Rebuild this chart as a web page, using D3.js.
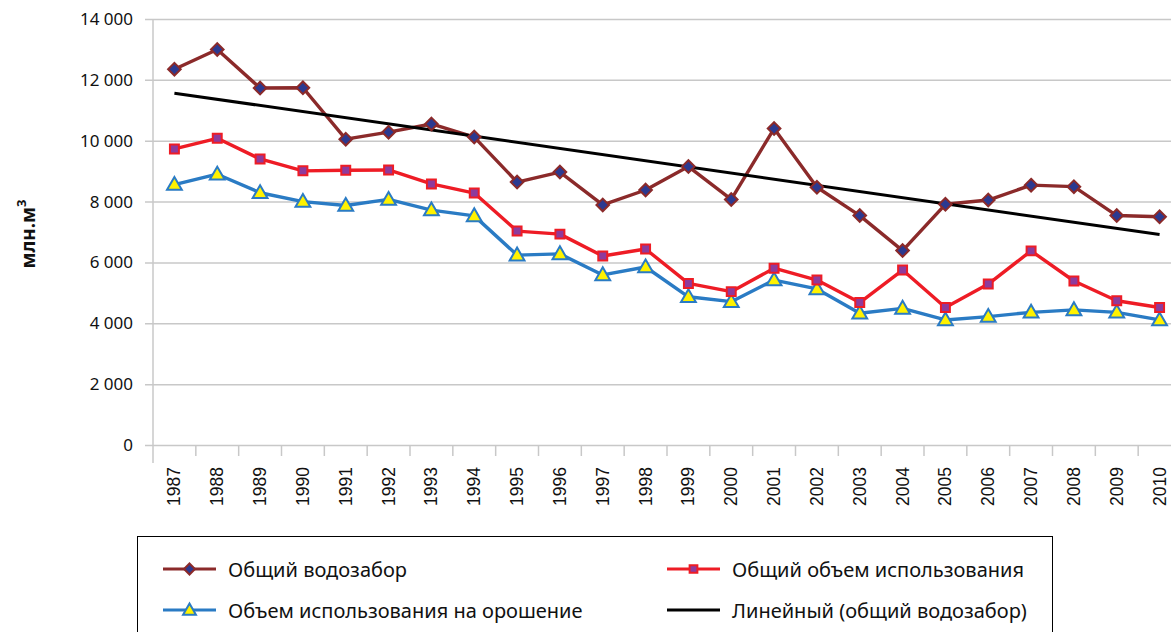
<!DOCTYPE html>
<html>
<head>
<meta charset="utf-8">
<script src="https://cdn.jsdelivr.net/npm/d3@7"></script>
<style>
  html, body { margin: 0; padding: 0; background: #fff; }
  svg { display: block; }
</style>
</head>
<body>
<svg id="chart" width="1171" height="632"></svg>
<script>
// Years on the horizontal axis
const years = ["1987","1988","1989","1990","1991","1992","1993","1994","1995","1996","1997","1998",
               "1999","2000","2001","2002","2003","2004","2005","2006","2007","2008","2009","2010"];

// Общий водозабор, млн. м³
const totalWithdrawal = [12350,13000,11730,11740,10050,10280,10550,10120,8640,8970,7890,8380,
                         9150,8070,10400,8470,7540,6390,7910,8050,8540,8490,7540,7500];

// Общий объем использования, млн. м³
const totalUse = [9730,10080,9400,9010,9030,9040,8580,8280,7030,6930,6210,6440,
                  5310,5040,5810,5420,4680,5750,4520,5290,6380,5390,4740,4520];

// Объем использования на орошение, млн. м³
const irrigationUse = [8560,8900,8290,8000,7870,8070,7720,7530,6240,6280,5590,5850,
                       4870,4710,5420,5130,4330,4490,4110,4220,4360,4440,4360,4110];

// Y axis ticks
const yTicks = [0,2000,4000,6000,8000,10000,12000,14000];

const legendLabels = [
  "Общий водозабор",
  "Общий объем использования",
  "Объем использования на орошение",
  "Линейный (общий водозабор)"
];

const svg = d3.select("#chart");

const plot = { left: 153, right: 1181, top: 19, bottom: 445 };

const x = d3.scaleBand().domain(years).range([plot.left, plot.right]).padding(0);
const y = d3.scaleLinear().domain([0, 14000]).range([plot.bottom, plot.top]);
const cx = d => x(d) + x.bandwidth() / 2;

// Horizontal gridlines with y tick labels
const yAxis = d3.axisLeft(y)
  .tickValues(yTicks)
  .tickSize(-(1171 - plot.left + 8))
  .tickPadding(12)
  .tickFormat(d => d3.format(",")(d).replace(/,/g, "\u00a0"));

const gy = svg.append("g")
  .attr("transform", `translate(${plot.left - 8},0)`)
  .call(yAxis);
gy.select(".domain").remove();
gy.selectAll(".tick line")
  .attr("stroke", "#c8c8c8")
  .attr("stroke-width", 1.5);
gy.selectAll(".tick text")
  .attr("x", -12)
  .attr("font-family", "'Noto Sans', sans-serif")
  .attr("font-size", 17)
  .attr("fill", "#111");

// Vertical axis line
svg.append("line")
  .attr("x1", plot.left).attr("x2", plot.left)
  .attr("y1", plot.top).attr("y2", plot.bottom + 18)
  .attr("stroke", "#c8c8c8").attr("stroke-width", 1.5);

// Category axis: ticks between years and rotated labels
const xAxis = d3.axisBottom(x).tickSize(0).tickPadding(0);
const gx = svg.append("g")
  .attr("transform", `translate(0,${plot.bottom})`)
  .call(xAxis);
gx.select(".domain").remove();
gx.selectAll(".tick text")
  .attr("transform", "rotate(-90)")
  .attr("text-anchor", "end")
  .attr("dominant-baseline", "central")
  .attr("dy", null)
  .attr("x", -22)
  .attr("y", 0)
  .attr("font-family", "'Liberation Sans', Arial, sans-serif")
  .attr("font-size", 17.5)
  .attr("fill", "#111");

svg.append("g").selectAll("line")
  .data(years.slice(1))
  .join("line")
  .attr("x1", d => x(d)).attr("x2", d => x(d))
  .attr("y1", plot.bottom).attr("y2", plot.bottom + 11)
  .attr("stroke", "#c8c8c8").attr("stroke-width", 1.5);

// Y axis title
svg.append("text")
  .attr("transform", "translate(35,234) rotate(-90)")
  .attr("text-anchor", "middle")
  .attr("font-family", "'Noto Sans', sans-serif")
  .attr("font-weight", "bold")
  .attr("font-size", 19)
  .attr("fill", "#111")
  .text("млн.м")
  .append("tspan")
  .attr("baseline-shift", "super")
  .attr("font-size", 13)
  .text("3");

// Diamond = square turned by 45 degrees
const diamond = {
  draw(context, size) {
    const r = Math.sqrt(size / 2);
    context.moveTo(0, -r);
    context.lineTo(r, 0);
    context.lineTo(0, r);
    context.lineTo(-r, 0);
    context.closePath();
  }
};

// Series styles
const series = [
  { name: legendLabels[0], values: totalWithdrawal, line: "#8b2a2a", fill: "#2b3990", stroke: "#8b2a2a", symbol: diamond, size: 80, dy: 0 },
  { name: legendLabels[1], values: totalUse, line: "#ee1c25", fill: "#8e3a9c", stroke: "#ee1c25", symbol: d3.symbolSquare, size: 80, dy: 0 },
  { name: legendLabels[2], values: irrigationUse, line: "#2a7bc4", fill: "#fff200", stroke: "#2a7bc4", symbol: d3.symbolTriangle, size: 95, dy: 1 }
];

const lineGen = d3.line()
  .x((d, i) => cx(years[i]))
  .y(d => y(d));

// Linear trend of total withdrawal (least squares)
const n = totalWithdrawal.length;
const idx = d3.range(n);
const mx = d3.mean(idx), my = d3.mean(totalWithdrawal);
const slope = d3.sum(idx, i => (i - mx) * (totalWithdrawal[i] - my)) / d3.sum(idx, i => (i - mx) ** 2);
const intercept = my - slope * mx;
const trend = idx.map(i => intercept + slope * i);

const marksG = svg.append("g");

// Lines: irrigation, use, withdrawal, then the trend
[series[2], series[1], series[0]].forEach(s => {
  marksG.append("path")
    .datum(s.values)
    .attr("d", lineGen)
    .attr("fill", "none")
    .attr("stroke", s.line)
    .attr("stroke-width", 3.4)
    .attr("stroke-linejoin", "round");
});

marksG.append("path")
  .datum([trend[0], trend[n - 1]])
  .attr("d", d3.line().x((d, i) => cx(years[i === 0 ? 0 : n - 1])).y(d => y(d)))
  .attr("fill", "none")
  .attr("stroke", "#000")
  .attr("stroke-width", 3);

[series[2], series[1], series[0]].forEach(s => {
  marksG.append("g").selectAll("path")
    .data(s.values)
    .join("path")
    .attr("transform", (d, i) => `translate(${cx(years[i])},${y(d) + s.dy})`)
    .attr("d", d3.symbol().type(s.symbol).size(s.size))
    .attr("fill", s.fill)
    .attr("stroke", s.stroke)
    .attr("stroke-width", 2);
});

// Legend
const legend = svg.append("g");
legend.append("rect")
  .attr("x", 137.5).attr("y", 536.5)
  .attr("width", 915).attr("height", 110)
  .attr("fill", "#fff")
  .attr("stroke", "#000")
  .attr("stroke-width", 1);

const legendItems = [
  { s: series[0], x: 163, y: 569 },
  { s: series[1], x: 667, y: 569 },
  { s: series[2], x: 163, y: 610 },
  { s: null, x: 667, y: 610, label: legendLabels[3] }
];

legendItems.forEach(it => {
  const g = legend.append("g").attr("transform", `translate(${it.x},${it.y})`);
  g.append("line")
    .attr("x1", 0).attr("x2", 53)
    .attr("stroke", it.s ? it.s.line : "#000")
    .attr("stroke-width", 3);
  if (it.s) {
    g.append("path")
      .attr("transform", `translate(26.5,${it.s.dy})`)
      .attr("d", d3.symbol().type(it.s.symbol).size(it.s.size * 0.75))
      .attr("fill", it.s.fill)
      .attr("stroke", it.s.stroke)
      .attr("stroke-width", 2);
  }
  g.append("text")
    .attr("x", 65)
    .attr("dominant-baseline", "central")
    .attr("font-family", "'Noto Sans', sans-serif")
    .attr("font-size", 20)
    .attr("fill", "#111")
    .text(it.s ? it.s.name : it.label);
});
</script>
</body>
</html>
